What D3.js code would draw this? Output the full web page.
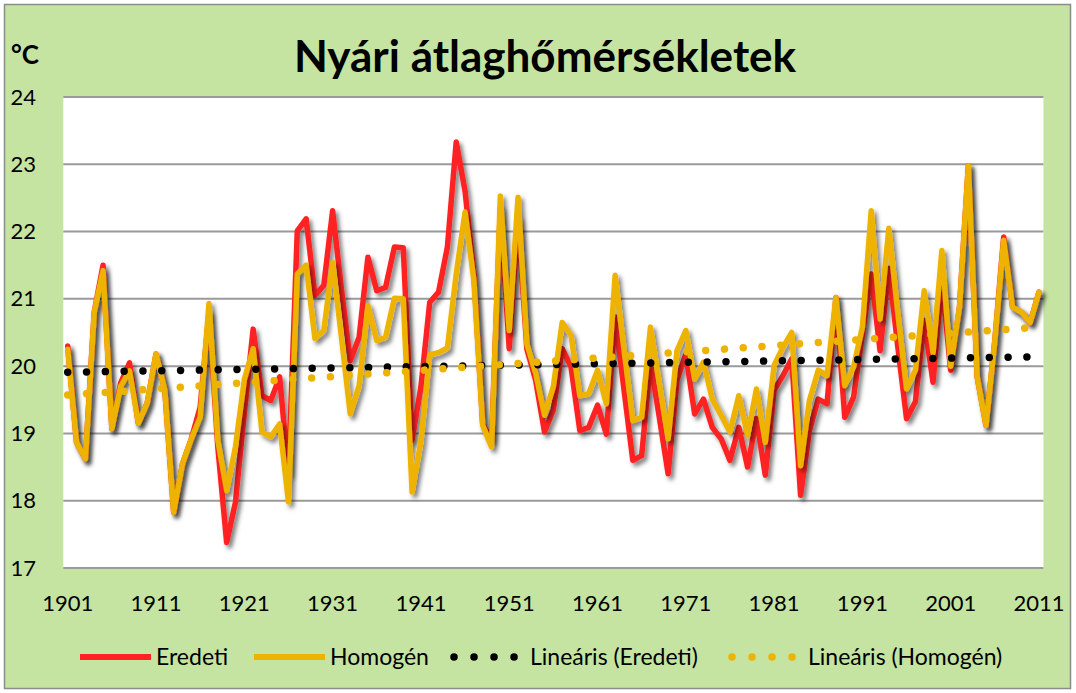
<!DOCTYPE html>
<html>
<head>
<meta charset="utf-8">
<script src="https://cdn.jsdelivr.net/npm/d3@7"></script>
<style>
  body { margin: 0; background: #fff; }
  text { font-family: Lato, "Open Sans", sans-serif; fill: #000; }
</style>
</head>
<body>
<div id="chart"></div>
<script>
// summer mean temperatures, 1901-2011
const years = d3.range(1901, 2012);

const eredeti = [
  20.3, 18.87, 18.62, 20.8, 21.5, 19.07, 19.75, 20.05, 19.15, 19.45,
  20.18, 19.64, 17.83, 18.55, 18.92, 19.39, 20.8, 18.8, 17.38, 17.98,
  19.3, 20.55, 19.56, 19.49, 19.84, 18.4, 22.01, 22.19, 21.05, 21.2,
  22.31, 21.15, 20.08, 20.43, 21.62, 21.12, 21.17, 21.77, 21.76, 18.9,
  19.69, 20.95, 21.1, 21.77, 23.33, 22.6, 21.37, 19.14, 18.9, 22.35,
  20.26, 22.2, 20.26, 19.79, 19.02, 19.35, 20.26, 19.99, 19.04, 19.09,
  19.42, 18.99, 20.73, 19.65, 18.6, 18.67, 20.06, 19.24, 18.4, 19.79,
  20.18, 19.29, 19.51, 19.09, 18.92, 18.6, 19.09, 18.5, 19.22, 18.38,
  19.64, 19.86, 20.11, 18.08, 19.04, 19.51, 19.44, 21.02, 19.24, 19.54,
  20.48, 21.37, 20.23, 21.45, 20.3, 19.22, 19.47, 20.68, 19.76, 21.27,
  19.94, 20.88, 22.98, 19.84, 19.12, 20.38, 21.92, 20.88, 20.8, 20.65,
  21.1
];

const homogen = [
  20.25, 18.87, 18.62, 20.8, 21.42, 19.07, 19.7, 19.93, 19.15, 19.45,
  20.18, 19.64, 17.83, 18.55, 18.92, 19.24, 20.93, 18.9, 18.15, 18.8,
  19.8, 20.26, 19.02, 18.95, 19.14, 17.98, 21.37, 21.5, 20.41, 20.53,
  21.54, 20.43, 19.29, 19.71, 20.9, 20.38, 20.43, 21.01, 21.0, 18.13,
  18.88, 20.17, 20.2, 20.27, 21.37, 22.29, 21.27, 19.12, 18.8, 22.53,
  20.53, 22.51, 20.33, 19.89, 19.27, 19.7, 20.65, 20.46, 19.56, 19.59,
  19.94, 19.44, 21.35, 20.25, 19.19, 19.24, 20.58, 19.74, 18.92, 20.23,
  20.53, 19.81, 20.06, 19.51, 19.27, 19.02, 19.56, 18.97, 19.66, 18.87,
  20.01, 20.28, 20.5, 18.52, 19.49, 19.94, 19.86, 21.02, 19.71, 19.99,
  20.58, 22.31, 20.7, 22.05, 20.8, 19.66, 19.94, 21.12, 20.2, 21.72,
  20.0, 20.88, 22.98, 19.84, 19.12, 20.38, 21.87, 20.88, 20.8, 20.65,
  21.1
];

// linear trend end values (1901, 2011)
const trendEredeti = [19.91, 20.14];
const trendHomogen = [19.57, 20.58];

const yTicks = [17, 18, 19, 20, 21, 22, 23, 24];
const xTicks = [1901, 1911, 1921, 1931, 1941, 1951, 1961, 1971, 1981, 1991, 2001, 2011];

const width = 1076, height = 693;
const plot = { left: 63.3, right: 1043.4, top: 97, bottom: 568 };
const red = "#ff2222", gold = "#eeb300";

const svg = d3.select("#chart").append("svg")
  .attr("width", width)
  .attr("height", height);

const defs = svg.append("defs");
defs.append("filter")
  .attr("id", "shadow")
  .attr("x", "-5%").attr("y", "-5%")
  .attr("width", "110%").attr("height", "110%")
  .append("feDropShadow")
  .attr("dx", 3).attr("dy", 3.5)
  .attr("stdDeviation", 2.2)
  .attr("flood-color", "#000")
  .attr("flood-opacity", 0.5);

// background
svg.append("rect")
  .attr("x", 4.5).attr("y", 4.5)
  .attr("width", 1066).attr("height", 684)
  .attr("fill", "#c5e4a1")
  .attr("stroke", "#8c8c8c")
  .attr("stroke-width", 1.5);

svg.append("rect")
  .attr("x", plot.left).attr("y", plot.top)
  .attr("width", plot.right - plot.left)
  .attr("height", plot.bottom - plot.top)
  .attr("fill", "#fff");

const x = d3.scaleBand()
  .domain(years)
  .range([plot.left, plot.right]);
const cx = (yr) => x(yr) + x.bandwidth() / 2;

const y = d3.scaleLinear()
  .domain([17, 24])
  .range([plot.bottom, plot.top]);

// gridlines
svg.append("g")
  .selectAll("line")
  .data(yTicks)
  .enter()
  .append("line")
  .attr("x1", plot.left)
  .attr("x2", plot.right)
  .attr("y1", (d) => y(d))
  .attr("y2", (d) => y(d))
  .attr("stroke", "#9a9a9a")
  .attr("stroke-width", 2);

// y axis labels
const yAxis = svg.append("g")
  .attr("transform", "translate(36,0)")
  .call(d3.axisLeft(y).tickValues(yTicks).tickFormat(d3.format("d")).tickSize(0).tickPadding(0));
yAxis.select(".domain").remove();
yAxis.selectAll("text")
  .style("font-family", "Lato, sans-serif")
  .style("font-size", "22px")
  .attr("fill", "#000");

// x axis labels
const xAxis = svg.append("g")
  .attr("transform", `translate(0,${plot.bottom})`)
  .call(d3.axisBottom(x).tickValues(xTicks).tickSize(0).tickPadding(27));
xAxis.select(".domain").remove();
xAxis.selectAll("text")
  .style("font-family", "Lato, sans-serif")
  .style("font-size", "22px")
  .attr("fill", "#000");

// data lines
const line = d3.line()
  .x((d) => cx(d.year))
  .y((d) => y(d.value))
  .curve(d3.curveLinear);

const series = [
  { values: eredeti, color: red },
  { values: homogen, color: gold },
];

series.forEach((s) => {
  svg.append("path")
    .datum(years.map((yr, i) => ({ year: yr, value: s.values[i] })))
    .attr("d", line)
    .attr("fill", "none")
    .attr("stroke", s.color)
    .attr("stroke-width", 5.5)
    .attr("stroke-linejoin", "round")
    .attr("stroke-linecap", "round")
    .attr("filter", "url(#shadow)");
});

// trend lines
const trends = [
  { values: trendEredeti, color: "#000" },
  { values: trendHomogen, color: gold },
];
trends.forEach((t) => {
  svg.append("line")
    .attr("x1", cx(years[0]))
    .attr("x2", cx(years[years.length - 1]))
    .attr("y1", y(t.values[0]))
    .attr("y2", y(t.values[1]))
    .attr("stroke", t.color)
    .attr("stroke-width", 7.5)
    .attr("stroke-linecap", "round")
    .attr("stroke-dasharray", "0.01 18.8");
});

// title
svg.append("text")
  .attr("x", 545)
  .attr("y", 72)
  .attr("text-anchor", "middle")
  .style("font-size", "44px")
  .style("font-weight", "bold")
  .text("Nyári átlaghőmérsékletek");

svg.append("text")
  .attr("x", 11)
  .attr("y", 64)
  .style("font-size", "26px")
  .style("font-weight", "bold")
  .text("°C");

// legend
const legendItems = [
  { label: "Eredeti", color: red, dotted: false, x: 80 },
  { label: "Homogén", color: gold, dotted: false, x: 254 },
  { label: "Lineáris (Eredeti)", color: "#000", dotted: true, x: 454 },
  { label: "Lineáris (Homogén)", color: gold, dotted: true, x: 732 },
];
const legend = svg.append("g").attr("transform", "translate(0,657)");
legendItems.forEach((item) => {
  if (item.dotted) {
    legend.append("line")
      .attr("x1", item.x).attr("x2", item.x + 61)
      .attr("stroke", item.color)
      .attr("stroke-width", 7.5)
      .attr("stroke-linecap", "round")
      .attr("stroke-dasharray", "0.01 20");
  } else {
    legend.append("line")
      .attr("x1", item.x).attr("x2", item.x + 71)
      .attr("stroke", item.color)
      .attr("stroke-width", 6);
  }
  legend.append("text")
    .attr("x", item.x + 76)
    .attr("y", 8)
    .style("font-size", "23px")
    .text(item.label);
});
</script>
</body>
</html>
